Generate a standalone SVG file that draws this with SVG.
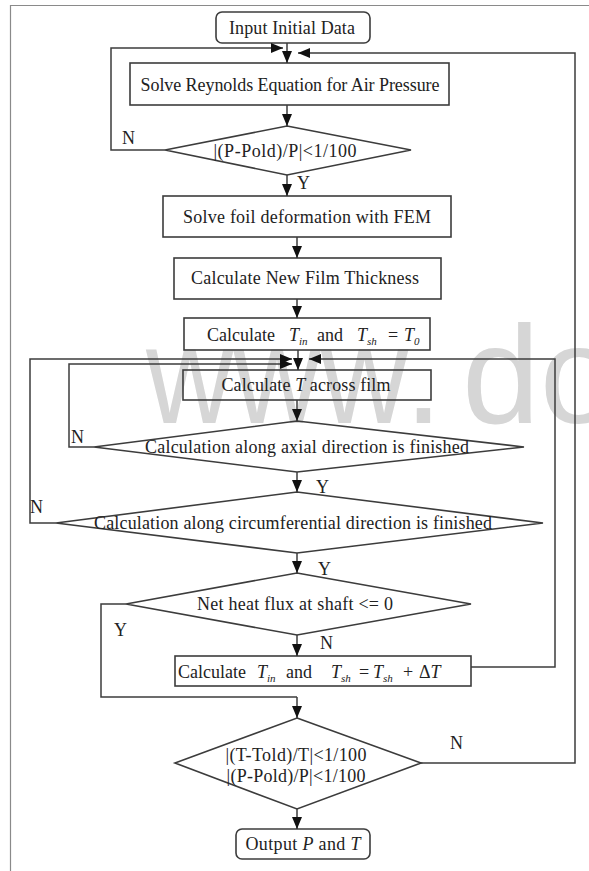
<svg xmlns="http://www.w3.org/2000/svg" width="589" height="871" viewBox="0 0 589 871">
  <style>
    .frame { stroke: #8a8a8a; stroke-width: 1.2; fill: none; }
    .box { fill: none; stroke: #3c3c3c; stroke-width: 1.6; }
    .line { fill: none; stroke: #3c3c3c; stroke-width: 1.5; }
    .arrow { fill: none; stroke: #3c3c3c; stroke-width: 1.5; marker-end: url(#head); }
    .t { font-family: "Liberation Serif", "Times New Roman", serif; font-size: 18px; fill: #222; }
    .c { text-anchor: middle; }
    .i { font-style: italic; }
    .sub { font-style: italic; font-size: 11px; }
    .mark { font-family: "Liberation Sans", Arial, sans-serif; font-size: 140px; fill: #d6d6d6; }
  </style>
  <defs>
    <marker id="head" viewBox="0 0 12 10" refX="12" refY="5" markerWidth="12" markerHeight="10" markerUnits="userSpaceOnUse" orient="auto">
      <path d="M0,0 L12,5 L0,10 Z" fill="#111"/>
    </marker>
  </defs>

  <rect width="589" height="871" fill="#ffffff"/>
  <!-- faint background lettering -->
  <text class="mark" x="146" y="423" textLength="262" lengthAdjust="spacingAndGlyphs">www</text>
  <text class="mark" x="404" y="423">.</text>
  <text class="mark" x="462" y="423">do</text>
  <path class="frame" d="M10.5,871 V5.5 H589"/>

  <!-- nodes -->
  <g id="input">
    <rect class="box" x="216" y="12" width="154" height="31" rx="6"/>
    <text class="t c" x="292" y="34" textLength="126">Input Initial Data</text>
  </g>
  <g id="reynolds">
    <rect class="box" x="130" y="63" width="319" height="42"/>
    <text class="t c" x="290" y="91" textLength="299">Solve Reynolds Equation for Air Pressure</text>
  </g>
  <g id="check-p">
    <polygon class="box" points="287,126 411,150 287,175 165,150"/>
    <text class="t c" x="285" y="157" textLength="143">|(P-Pold)/P|&lt;1/100</text>
  </g>
  <g id="foil">
    <rect class="box" x="163" y="196" width="288" height="41"/>
    <text class="t c" x="307" y="223" textLength="248">Solve foil deformation with FEM</text>
  </g>
  <g id="thickness">
    <rect class="box" x="174" y="258" width="267" height="41"/>
    <text class="t c" x="305" y="284" textLength="228">Calculate New Film Thickness</text>
  </g>
  <g id="init-temp">
    <rect class="box" x="184" y="318" width="246" height="32"/>
    <text class="t" y="341"><tspan x="207">Calculate</tspan><tspan class="i" x="289">T</tspan><tspan class="sub" x="299" y="345">in</tspan><tspan x="317" y="341">and</tspan><tspan class="i" x="357">T</tspan><tspan class="sub" x="367" y="345">sh</tspan><tspan x="388" y="341">=</tspan><tspan class="i" x="404">T</tspan><tspan class="sub" x="414" y="345">0</tspan></text>
  </g>
  <g id="film-temp">
    <rect class="box" x="183" y="370" width="248" height="30"/>
    <text class="t c" x="306" y="391" textLength="169">Calculate <tspan class="i">T</tspan> across film</text>
  </g>
  <g id="axial">
    <polygon class="box" points="297,421 524,447 297,472 94,447"/>
    <text class="t c" x="307" y="453" textLength="324">Calculation along axial direction is finished</text>
  </g>
  <g id="circumferential">
    <polygon class="box" points="297,492 543,523 297,553 56,523"/>
    <text class="t c" x="293" y="529" textLength="398">Calculation along circumferential direction is finished</text>
  </g>
  <g id="heat-flux">
    <polygon class="box" points="297,573 471,604 297,635 126,604"/>
    <text class="t c" x="295" y="610" textLength="196">Net heat flux at shaft &lt;= 0</text>
  </g>
  <g id="update-temp">
    <rect class="box" x="175" y="656" width="296" height="30"/>
    <text class="t" y="678"><tspan x="178">Calculate</tspan><tspan class="i" x="257">T</tspan><tspan class="sub" x="267" y="682">in</tspan><tspan x="286" y="678">and</tspan><tspan class="i" x="331">T</tspan><tspan class="sub" x="341" y="682">sh</tspan><tspan x="359" y="678">=</tspan><tspan class="i" x="373">T</tspan><tspan class="sub" x="383" y="682">sh</tspan><tspan x="403" y="678">+</tspan><tspan x="419">Δ</tspan><tspan class="i">T</tspan></text>
  </g>
  <g id="converged">
    <polygon class="box" points="297,718 421,763 297,809 175,763"/>
    <text class="t c" x="296" y="761" textLength="141">|(T-Told)/T|&lt;1/100</text>
    <text class="t c" x="296" y="782" textLength="139">|(P-Pold)/P|&lt;1/100</text>
  </g>
  <g id="output">
    <rect class="box" x="236" y="829" width="134" height="30" rx="6"/>
    <text class="t c" x="303" y="850" textLength="115">Output <tspan class="i">P</tspan> and <tspan class="i">T</tspan></text>
  </g>

  <!-- connectors -->
  <g id="connectors">
    <line class="arrow" x1="287" y1="43" x2="287" y2="63"/>
    <line class="arrow" x1="287" y1="105" x2="287" y2="126"/>
    <line class="arrow" x1="287" y1="175" x2="287" y2="196"/>
    <line class="arrow" x1="297" y1="237" x2="297" y2="258"/>
    <line class="arrow" x1="297" y1="299" x2="297" y2="318"/>
    <line class="arrow" x1="298" y1="350" x2="298" y2="370"/>
    <line class="arrow" x1="297" y1="400" x2="297" y2="421"/>
    <line class="arrow" x1="297" y1="472" x2="297" y2="492"/>
    <line class="arrow" x1="297" y1="553" x2="297" y2="573"/>
    <line class="arrow" x1="297" y1="635" x2="297" y2="656"/>
    <line class="arrow" x1="297" y1="697" x2="297" y2="718"/>
    <line class="arrow" x1="297" y1="809" x2="297" y2="829"/>

    <polyline class="arrow" points="165,150 111,150 111,48 283,48"/>
    <polyline class="arrow" points="421,763 575,763 575,53 298,53"/>
    <polyline class="arrow" points="94,447 69,447 69,364 292,364"/>
    <polyline class="arrow" points="56,523 30,523 30,359 292,359"/>
    <polyline class="arrow" points="471,667 555,667 555,359 309,359"/>
    <polyline class="line" points="126,604 101,604 101,697 297,697"/>

    <text class="t" x="122" y="144">N</text>
    <text class="t" x="297" y="189">Y</text>
    <text class="t" x="71" y="443">N</text>
    <text class="t" x="316" y="493">Y</text>
    <text class="t" x="30" y="513">N</text>
    <text class="t" x="318" y="575">Y</text>
    <text class="t" x="114" y="636">Y</text>
    <text class="t" x="320" y="649">N</text>
    <text class="t" x="450" y="749">N</text>
  </g>
</svg>
